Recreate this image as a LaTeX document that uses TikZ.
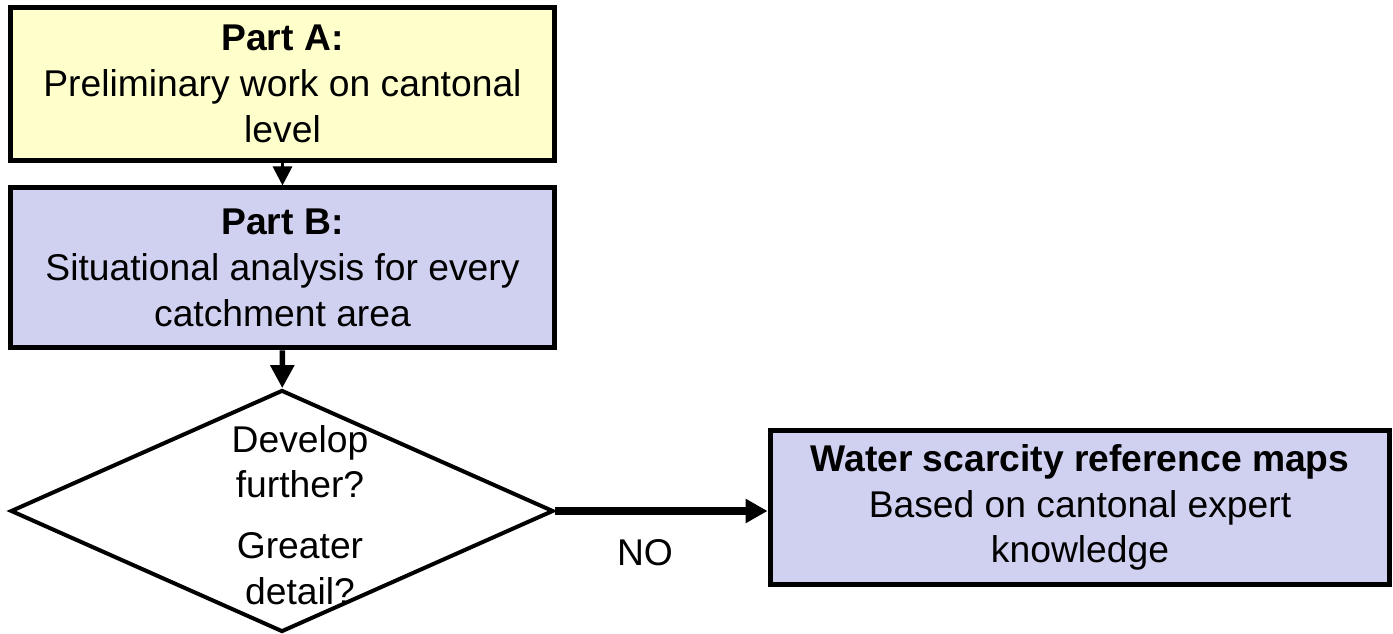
\documentclass[tikz,border=0pt]{standalone}
\usepackage{fontspec}
\setmainfont{Liberation Sans}
\usetikzlibrary{positioning,shapes.geometric,arrows.meta}
\definecolor{partyellow}{HTML}{FFFFCC}
\definecolor{partlilac}{HTML}{D0D0F0}

\begin{document}
\begin{tikzpicture}[x=0.02cm, y=-0.02cm,
        box/.style={draw, line width=0.1cm, align=center, inner sep=0pt,
            font=\fontsize{21.2}{26}\selectfont,
            minimum width=10.9cm, minimum height=3.08cm},
        decision/.style={draw, diamond, line width=0.08cm, inner sep=0pt,
            minimum width=10.86cm, minimum height=4.84cm},
        plain/.style={align=center, font=\fontsize{21.2}{26}\selectfont}]
        \useasboundingbox (0,0) rectangle (1393,634);

        % Nodes
        \node[box, fill=partyellow] (A) at (282.5,84)
            {\textbf{Part A:}\\Preliminary work on cantonal\\level};
        \node[box, fill=partlilac, minimum height=3.2cm] (B) [below=0.44cm of A]
            {\textbf{Part B:}\\Situational analysis for every\\catchment area};
        \node[decision] (D) at (282,511) {};
        \node[plain] (Dtext) at (300,515)
            {Develop\\further?\\[0.3cm]Greater\\detail?};
        \node[box, fill=partlilac, minimum width=12.4cm, minimum height=3.1cm] (C) at (1080,507.5)
            {\textbf{Water scarcity reference maps}\\Based on cantonal expert\\knowledge};
        \node[plain] (no) at (645,553) {NO};

        % Arrows
        \draw[line width=0.06cm, -{Triangle[length=0.38cm, width=0.38cm]}] (A) -- (B);
        \draw[line width=0.11cm, -{Triangle[length=0.46cm, width=0.46cm]}] (B) -- (D);
        \draw[line width=0.16cm, -{Triangle[length=0.44cm, width=0.46cm]}] (D.east) -- (D.east -| C.west);
    \end{tikzpicture}
\end{document}
